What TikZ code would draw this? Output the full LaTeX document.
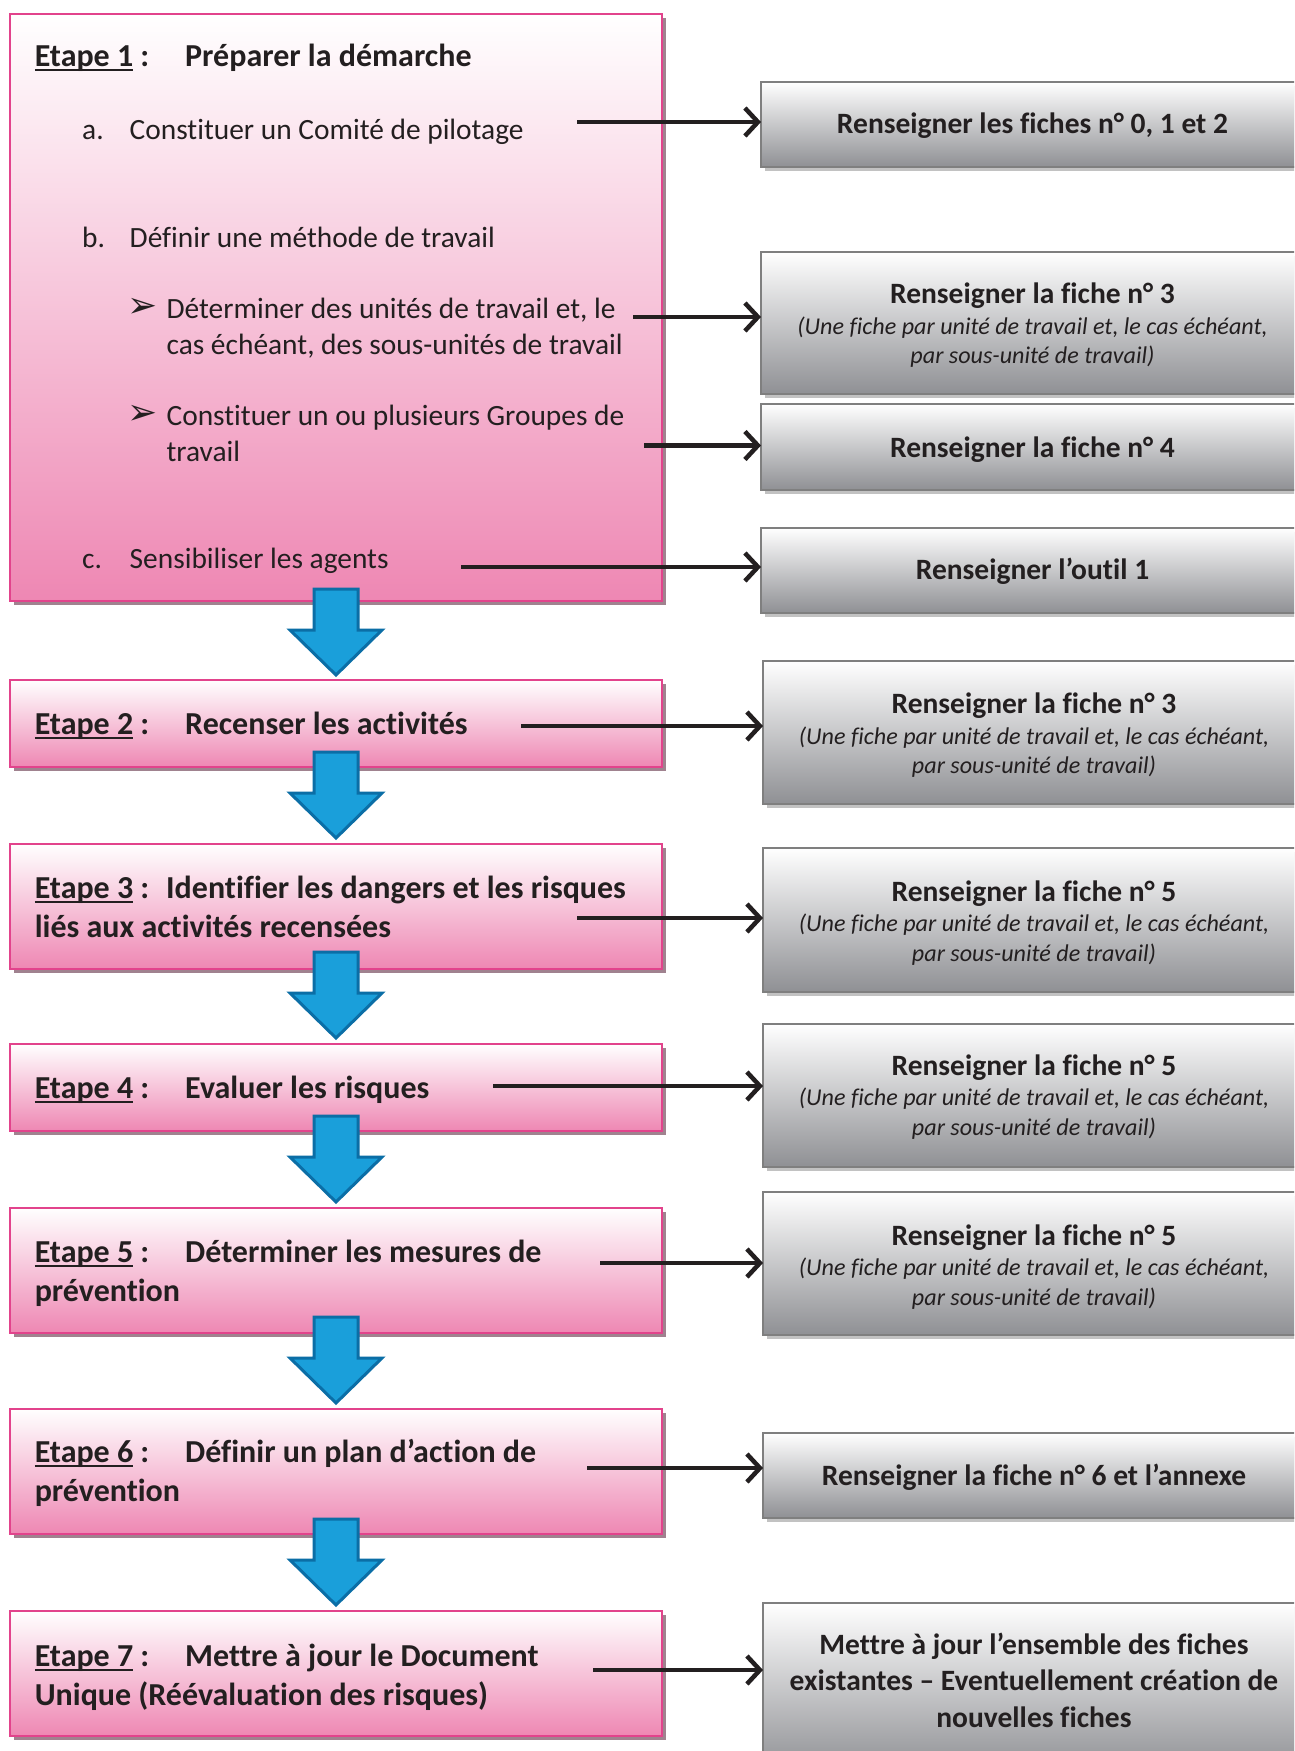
\documentclass[tikz,border=0pt]{standalone}
\usepackage{fontspec}
\setmainfont{Carlito}[Ligatures=CommonOff]
\newfontfamily\dejavu{DejaVu Sans}
\usetikzlibrary{arrows.meta}
\definecolor{txt}{HTML}{231F20}
\definecolor{pinkB}{HTML}{E2438C}
\definecolor{pinkF}{HTML}{EE87B3}
\definecolor{pinkS}{HTML}{A0828F}
\definecolor{greyB}{HTML}{7F7F7F}
\definecolor{greyF}{HTML}{8F9094}
\definecolor{greyS}{HTML}{C2C2C2}
\definecolor{blueF}{HTML}{1A9FDA}
\definecolor{blueB}{HTML}{0B6EA6}
\newcommand\etul[1]{\setbox0\hbox{#1}\rlap{\rule[-4.5pt]{\wd0}{2pt}}\box0\relax}
\tikzset{
  stepbox/.style={draw=pinkB, line width=2.5pt, top color=white, bottom color=pinkF, minimum width=652pt, inner sep=0, outer sep=0, anchor=north west},
  pshadow/.style={fill=pinkS, draw=none, minimum width=652pt, inner sep=0, outer sep=0, anchor=north west},
  greybox/.style={draw=greyB, line width=2.5pt, top color=white, bottom color=greyF, inner sep=0, outer sep=0, anchor=north west},
  gshadow/.style={fill=greyS, draw=none, inner sep=0, outer sep=0, anchor=north west},
  bluearrow/.style={fill=blueF, draw=blueB, line width=3pt, line join=miter},
  blk/.style={draw=txt, line width=4.5pt, -{Straight Barb[length=13pt,width=28pt]}},
  tl/.style={anchor=base west, inner sep=0, text=txt},
  tc/.style={anchor=base, inner sep=0, text=txt},
  fb/.style={font=\fontsize{32}{38}\selectfont\bfseries},
  fr/.style={font=\fontsize{29.4}{35}\selectfont},
  gb/.style={font=\fontsize{29.5}{35}\selectfont\bfseries},
  gi/.style={font=\fontsize{24.1}{28}\selectfont\itshape},
  mk/.style={font=\dejavu\fontsize{36}{40}\selectfont},
}
\newcommand\mystep[3]{%
  \node[pshadow, minimum height=#3pt] at (14,#2+4) {};
  \node[stepbox, minimum height=#3pt] (#1) at (10,#2) {};}
\newcommand\mygrey[4]{%
  \node[gshadow, minimum width=1300pt-#2pt, minimum height=#4pt] at (#2+4,#3+4) {};
  \node[greybox, minimum width=1300pt-#2pt, minimum height=#4pt] (#1) at (#2,#3) {};}
\newcommand\bluearr[1]{%
  \draw[bluearrow] (314,#1-86) -- (314,#1-45) -- (290,#1-45) -- (336,#1) -- (382,#1-45) -- (358,#1-45) -- (358,#1-86) -- cycle;}
\begin{document}
\begin{tikzpicture}[x=1pt,y=-1pt]
\useasboundingbox (0,0) rectangle (1294,1751);
\clip (0,0) rectangle (1294,1751);
\fill[white] (0,0) rectangle (1294,1751);

% step boxes
\mystep{s1}{14}{587}
\mystep{s2}{680}{87}
\mystep{s3}{844}{125}
\mystep{s4}{1044}{87}
\mystep{s5}{1208}{125}
\mystep{s6}{1409}{125}
\mystep{s7}{1611}{125}

% grey boxes
\mygrey{g1}{761}{82}{85}
\mygrey{g2}{761}{252}{142}
\mygrey{g3}{761}{404}{86}
\mygrey{g4}{761}{528}{85}
\mygrey{g5}{763}{661}{143}
\mygrey{g6}{763}{848}{144}
\mygrey{g7}{763}{1024}{143}
\mygrey{g8}{763}{1192}{143}
\mygrey{g9}{763}{1433}{85}
\mygrey{g10}{763}{1603}{170}

% blue arrows
\bluearr{675}
\bluearr{838}
\bluearr{1038}
\bluearr{1202}
\bluearr{1403}
\bluearr{1605}

% step 1 texts
\node[tl,fb] (s1h) at (34.6,66.5) {\etul{Etape 1} :};
\node[tl,fb] (s1t) at (185,66.5) {Préparer la démarche};
\node[tl,fr] (s1a) at (82,139) {a.};
\node[tl,fr] (s1at) at (129.5,139) {Constituer un Comité de pilotage};
\node[tl,fr] (s1b) at (82,247) {b.};
\node[tl,fr] (s1bt) at (129.5,247) {Définir une méthode de travail};
\node[tl,mk] (s1m1) at (127,317) {➢};
\node[tl,fr] (s1b1) at (166.4,318.5) {Déterminer des unités de travail et, le};
\node[tl,fr] (s1b1b) at (166.4,354.5) {cas échéant, des sous-unités de travail};
\node[tl,mk] (s1m2) at (127,424) {➢};
\node[tl,fr] (s1b2) at (166.4,425.5) {Constituer un ou plusieurs Groupes de};
\node[tl,fr] (s1b2b) at (166.4,461.5) {travail};
\node[tl,fr] (s1c) at (82,568.5) {c.};
\node[tl,fr] (s1ct) at (129.5,568.5) {Sensibiliser les agents};

% steps 2-7 texts
\node[tl,fb] (s2h) at (34.6,734) {\etul{Etape 2} :};
\node[tl,fb] (s2t) at (185,734) {Recenser les activités};
\node[tl,fb] (s3h) at (34.6,898) {\etul{Etape 3} :};
\node[tl,fb] (s3t) at (166,898) {Identifier les dangers et les risques};
\node[tl,fb] (s3u) at (34.6,937) {liés aux activités recensées};
\node[tl,fb] (s4h) at (34.6,1098) {\etul{Etape 4} :};
\node[tl,fb] (s4t) at (185,1098) {Evaluer les risques};
\node[tl,fb] (s5h) at (34.6,1262) {\etul{Etape 5} :};
\node[tl,fb] (s5t) at (185,1262) {Déterminer les mesures de};
\node[tl,fb] (s5u) at (34.6,1301) {prévention};
\node[tl,fb] (s6h) at (34.6,1462) {\etul{Etape 6} :};
\node[tl,fb] (s6t) at (185,1462) {Définir un plan d’action de};
\node[tl,fb] (s6u) at (34.6,1501) {prévention};
\node[tl,fb] (s7h) at (34.6,1666) {\etul{Etape 7} :};
\node[tl,fb] (s7t) at (185,1666) {Mettre à jour le Document};
\node[tl,fb] (s7u) at (34.6,1705.5) {Unique (Réévaluation des risques)};

% grey texts
\node[tc,gb] (g1t) at (1032.5,133) {Renseigner les fiches n° 0, 1 et 2};
\node[tc,gb] (g2t) at (1032.5,303.5) {Renseigner la fiche n° 3};
\node[tc,gi] (g2u) at (1032.5,334) {(Une fiche par unité de travail et, le cas échéant,};
\node[tc,gi] (g2v) at (1032.5,363) {par sous-unité de travail)};
\node[tc,gb] (g3t) at (1032.5,457.7) {Renseigner la fiche n° 4};
\node[tc,gb] (g4t) at (1032.5,579) {Renseigner l’outil 1};
\node[tc,gb] (g5t) at (1034,713) {Renseigner la fiche n° 3};
\node[tc,gi] (g5u) at (1034,744) {(Une fiche par unité de travail et, le cas échéant,};
\node[tc,gi] (g5v) at (1034,773) {par sous-unité de travail)};
\node[tc,gb] (g6t) at (1034,901) {Renseigner la fiche n° 5};
\node[tc,gi] (g6u) at (1034,931) {(Une fiche par unité de travail et, le cas échéant,};
\node[tc,gi] (g6v) at (1034,961.5) {par sous-unité de travail)};
\node[tc,gb] (g7t) at (1034,1075) {Renseigner la fiche n° 5};
\node[tc,gi] (g7u) at (1034,1105.5) {(Une fiche par unité de travail et, le cas échéant,};
\node[tc,gi] (g7v) at (1034,1135.7) {par sous-unité de travail)};
\node[tc,gb] (g8t) at (1034,1245) {Renseigner la fiche n° 5};
\node[tc,gi] (g8u) at (1034,1275) {(Une fiche par unité de travail et, le cas échéant,};
\node[tc,gi] (g8v) at (1034,1305) {par sous-unité de travail)};
\node[tc,gb] (g9t) at (1034,1485) {Renseigner la fiche n° 6 et l’annexe};
\node[tc,gb] (g10t) at (1034,1654.6) {Mettre à jour l’ensemble des fiches};
\node[tc,gb] (g10u) at (1034,1690) {existantes – Eventuellement création de};
\node[tc,gb] (g10v) at (1034,1727) {nouvelles fiches};

% black connectors
\coordinate (ca) at (577,122);
\coordinate (cb1) at (633,317);
\coordinate (cb2) at (644,445.5);
\coordinate (cc) at (461,567);
\coordinate (c2) at (521,726);
\coordinate (c3) at (577,918);
\coordinate (c4) at (493,1086);
\coordinate (c5) at (600,1263);
\coordinate (c6) at (587,1468);
\coordinate (c7) at (593,1670);
\draw[blk] (ca) -- (ca -| g1.west);
\draw[blk] (cb1) -- (cb1 -| g2.west);
\draw[blk] (cb2) -- (cb2 -| g3.west);
\draw[blk] (cc) -- (cc -| g4.west);
\draw[blk] (c2) -- (c2 -| g5.west);
\draw[blk] (c3) -- (c3 -| g6.west);
\draw[blk] (c4) -- (c4 -| g7.west);
\draw[blk] (c5) -- (c5 -| g8.west);
\draw[blk] (c6) -- (c6 -| g9.west);
\draw[blk] (c7) -- (c7 -| g10.west);
\end{tikzpicture}
\end{document}
